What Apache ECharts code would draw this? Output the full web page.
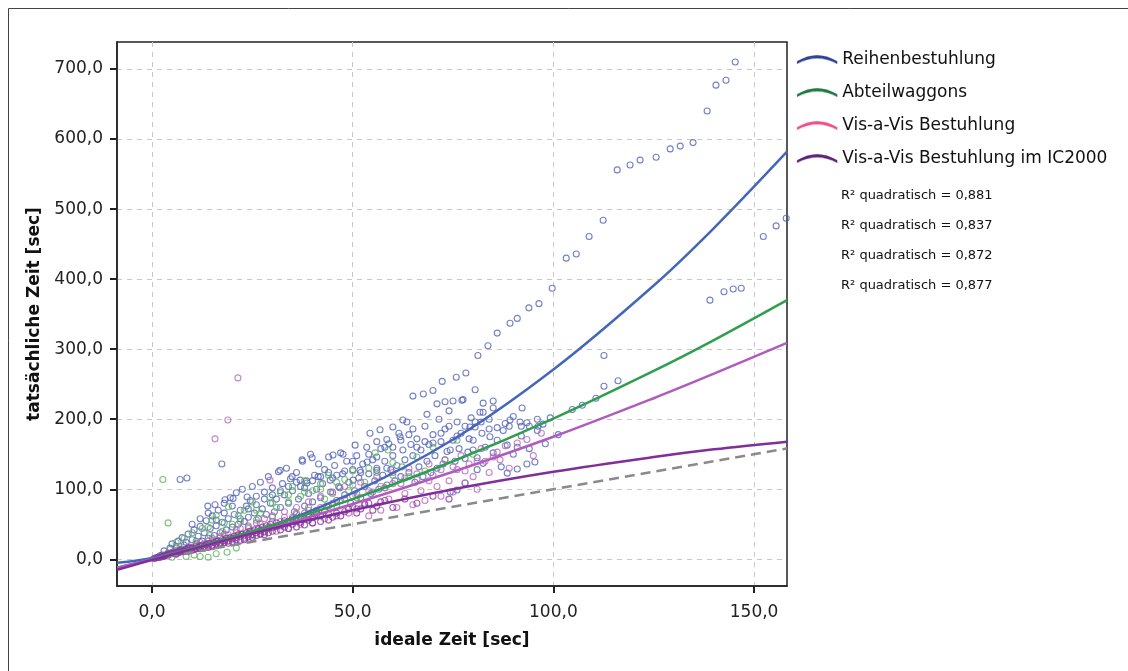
<!DOCTYPE html>
<html>
<head>
<meta charset="utf-8">
<title>Zeit Vergleich</title>
<script src="https://cdn.jsdelivr.net/npm/echarts@6/dist/echarts.min.js"></script>
<style>
  html, body { margin: 0; padding: 0; background: #fff; }
  #chart { width: 1128px; height: 671px; }
</style>
</head>
<body>
<div id="chart"></div>
<script>
// --- data ---
const groupNames = ['Reihenbestuhlung', 'Abteilwaggons', 'Vis-a-Vis Bestuhlung', 'Vis-a-Vis Bestuhlung im IC2000']
const rSquared = ['0,881', '0,837', '0,872', '0,877']
const xTicks = [0, 50, 100, 150]
const yTicks = [0, 100, 200, 300, 400, 500, 600, 700]

// fitted (quadratic) curves
const fitX = [-8.7, 0, 25, 50, 75, 100, 125, 140, 158.2]
const fitReihen = [-5, 2, 39, 95, 171, 271, 391, 473, 582]
const fitAbteil = [-12, 0, 40, 86, 140, 201, 269, 313, 370]
const fitVis = [-12, 0, 37, 79, 125, 175, 230, 265, 309]
const fitIC = [-15, -1, 37, 70, 100, 125, 146, 157, 168]
const diagX = [0, 158.2]

const ptsReihen = [
  [93.9,359],[96.4,365],[99.7,387],[103.2,430],[105.7,436],[108.9,461],[112.4,484],[115.9,556],[119.1,563],
  [121.6,570],[125.6,574],[129.1,586],[131.6,590],[134.8,595],[138.3,640],[140.5,677],[143.0,684],[145.3,710],
  [152.3,461],[155.5,476],[158.0,487],[139.0,370],[142.5,382],[144.8,386],[146.8,387],
  [72.3,254],[75.8,260],[78.2,266],[81.2,291],[83.7,305],[86,323],[89.2,337],[91,344],[112.6,291],
  [112.6,247],[116.1,255],[110.6,230],[107.2,220],[104.7,214],[99.2,202],[97.4,193],[96.2,190],[101.2,178],
  [95.4,139],[93.4,136],[91.0,129],[88.5,123],[92.2,216],[93.4,195],[91.7,196],[89.2,199],[87.5,184],
  [84.2,175],[85.0,216],[82.5,223],[82.5,210],[79.5,202],[80.5,242],[77.5,228],[75,226],[79.2,189],
  [82.2,180],[85,152],[88.5,163],[91,160],[78.7,153],[81,145],[82.5,137],[74.3,156],[74.3,96],[76,99],[78,109],
  [65,233],[67.6,236],[70,241],[71,222],[73,225],[77.2,227],[85,226],[81.7,210],[68.5,207],[80.5,189],
  [62.5,199],[65,186],[61.8,175],[60,189],[56.8,185],[54.3,180],[56,168],[58.5,171],[50.6,163],[47.6,150],
  [45.1,149],[39.9,145],[37.4,142],[31.9,127],[34.9,118],[23.7,89],[20.2,87],[18.2,85],[15.7,78],[13.9,76],
  [7,114],[8.7,116],[17.4,136],[36.9,113],[38.6,109],[41.4,118],[44.4,113],[46.8,102],[50.1,113],[51.8,127],
  [53.6,139],[56,127],[58.5,130],
  [1.5,3],[2.5,6],[3,12],[4,9],[4.5,16],[5,22],[5.5,11],[6,18],[6.5,26],[7,14],[7.5,31],[8,20],[8.5,24],
  [9,36],[9.5,17],[10,28],[10.5,42],[11,22],[11.5,33],[12,47],[12.5,26],[13,38],[13.5,55],[14,30],[14.5,44],
  [15,62],[15.5,34],[16,48],[16.5,70],[17,38],[17.5,53],[18,80],[18.5,42],[19,58],[19.5,88],[20,46],[20.5,64],
  [21,95],[21.5,50],[22,70],[22.5,100],[23,54],[23.5,76],[24,60],[24.5,84],[25,104],[25.5,66],[26,90],[26.5,58],
  [27,110],[27.5,72],[28,96],[28.5,64],[29,118],[29.5,80],[30,102],[30.5,68],[31,86],[31.5,125],[32,74],
  [32.5,108],[33,92],[33.5,130],[34,80],[34.5,115],[35,98],[35.5,68],[36,124],[36.5,86],[37,104],[37.5,140],
  [38,76],[38.5,112],[39,94],[39.5,150],[40,82],[40.5,120],[41,100],[41.5,136],[42,88],[42.5,108],[43,128],
  [43.5,76],[44,146],[44.5,96],[45,116],[45.5,134],[46,84],[46.5,104],[47,152],[47.5,122],[48,92],[48.5,140],
  [49,110],[49.5,80],[50,128],[50.5,98],[51,148],[51.5,116],[52,88],[52.5,136],[53,104],[53.5,160],[54,122],
  [54.5,94],[55,142],[55.5,112],[56,130],[56.5,100],[57,158],[57.5,120],[58,140],[58.5,106],[59,165],[59.5,128],
  [60,148],[60.5,112],[61,134],[61.5,180],[62,118],[62.5,156],[63,142],[63.5,196],[64,124],[64.5,164],[65,148],
  [65.5,110],[66,172],[66.5,132],[67,156],[67.5,118],[68,190],[68.5,140],[69,164],[69.5,124],[70,178],[70.5,148],
  [71,130],[71.5,200],[72,168],[72.5,136],[73,186],[73.5,154],[74,212],[75,170],[75.5,140],[76,196],[76.5,158],
  [77,180],[78,144],[79,172],[80,156],[80.5,196],[81,128],[83,160],[84,186],[86,170],[87,132],[89,190],[90,150],
  [92,176],[94,158],[96,200],[98,165],
  [10,50],[12,58],[14,66],[16,56],[18,66],[20,76],[22,58],[24,72],[26,78],[28,86],[30,92],[32,98],[34,104],
  [36,110],[38,102],[40,112],[42,118],[44,124],[46,120],[48,126],[50,140],[52,124],[54,150],[56,146],[58,160],
  [60,160],[62,170],[64,178],[66,160],[68,168],[70,166],[72,180],[74,190],[76,176],[78,190],[80,170],[82,196],
  [84,200],[86,188],[88,194],[90,204],[92,190],[94,190],[96,184]
]
const ptsAbteil = [
  [2.7,114],[4,52],[3,6],[4.5,14],[5,3],[6,24],[6.5,9],[7,18],[8,30],[8.5,4],[9,12],[10,38],[10.5,6],[11,26],
  [12,4],[12.5,44],[13,16],[14,3],[14.5,34],[15,56],[16,8],[16,63],[17,24],[17.5,40],[18.7,10],[19,75],[19.5,30],
  [20,50],[21,16],[21.5,62],[22,36],[23,70],[24,46],[24.5,28],[25,82],[26,56],[27,66],[28,40],[29.4,89],[30,60],
  [31,74],[32,95],[33,50],[34,82],[35,104],[36,66],[37,90],[38,112],[39,74],[40,98],[41,62],[42,108],[43,86],
  [44,120],[45,94],[46,76],[48,114],[49,98],[50,126],[51,88],[53,110],[55.6,152],[56,124],[58,102],[58.8,156],
  [60,138],[62.3,132],[64,118],[66,146],[68,126],[70,160],[73,142],[76,170],[80,150],
  [14,46],[18,52],[22,54],[26,70],[30,80],[34,92],[38,96],[42,100],[46,110],[50,106],[54,130],[60,120]
]
const ptsVis = [
  [15.7,172],[18.9,199],[21.4,259],
  [2,3],[3,5],[4,8],[5,10],[6,7],[7,12],[8,14],[9,11],[10,16],[11,20],[12,15],[13,22],[14,26],[15,20],[16,28],
  [17,32],[18,24],[19,35],[20,30],[21,38],[22,44],[23,34],[24,48],[25,40],[26,52],[27,36],[28,58],[29,46],
  [29.4,113],[30,62],[31,40],[32,54],[33,68],[34,44],[35,60],[36,74],[37,50],[38,66],[39,82],[40,52],[41,70],
  [42,90],[43,58],[44,76],[45,96],[46,62],[47,84],[48,104],[49,66],[50,90],[51,72],[52,110],[53,80],[54,62],
  [55,96],[56,118],[57,70],[58,102],[59,86],[60,124],[61,74],[62,108],[63,94],[64,130],[65,78],[66,114],[67,98],
  [68,84],[69,136],[70,120],[71,104],[72,90],[73,142],[74,112],[75,96],[76,128],[77,148],[78,109],[79,136],
  [80,118],[81,100],[82,158],[83,140],[84,124],[85,146],[86,153],[86.7,142],[88,162],[89,130],[91,166],
  [93.4,171],[95,148],[97,180],
  [6,13],[9,18],[12,24],[15,30],[18,36],[21,42],[24,44],[27,50],[30,54],[33,60],[36,64],[39,70],[42,74],
  [45,80],[48,86],[51,94],[54,98],[57,104],[60,108],[63,116],[66,122],[69,112],[72,128],[75,132],[78,126],[81,140]
]
const ptsIC = [
  [0.5,1],[1,2],[1.5,3],[2,3],[2.5,4],[3,5],[3.5,6],[4,6],[4.5,8],[5,8],[5.5,9],[6,10],[6.5,11],[7,10],[7.5,12],
  [8,13],[8.5,14],[9,12],[9.5,15],[10,16],[10.5,14],[11,18],[11.5,17],[12,15],[12.5,20],[13,18],[13.5,21],[14,17],
  [14.5,23],[15,20],[15.5,24],[16,22],[16.5,26],[17,21],[17.5,28],[18,24],[18.5,30],[19,26],[19.5,31],[20,25],
  [20.5,33],[21,28],[21.5,35],[22,27],[22.5,36],[23,30],[23.5,38],[24,32],[24.5,40],[25,31],[25.5,42],[26,34],
  [26.5,44],[27,36],[27.5,46],[28,35],[28.5,48],[29,38],[29.5,50],[30,40],[31,52],[32,42],[33,55],[34,44],[35,58],
  [36,46],[37,60],[38,49],[39,63],[40,52],[41,66],[42,54],[43,69],[44,56],[45,60],[47,62],[49,72],[51,66],[53,78],
  [55,70],[57,82],[60,74],[63,86],[66,80],[70,90],[74,86],
  [2,5],[3,4],[4,7],[5,9],[6,8],[7,13],[8,11],[9,16],[10,13],[11,15],[12,19],[13,16],[14,22],[15,18],[16,25],
  [17,23],[18,27],[19,23],[20,29],[21,31],[22,33],[23,28],[24,36],[25,35],[26,38],[27,41],[28,39],[29,44],[30,45],
  [31,47],[32,48],[33,46],[34,52],[35,50],[36,55],[37,53],[38,58],[39,56],[40,60],[42,62],[44,64],[46,66],[48,68],
  [50,75],[52,72],[54,80],[56,76],[58,84]
]

// --- styles ---
const fontFam = 'DejaVu Sans'
const legendColors = ['#34439a', '#237a44', '#f0508a', '#5e2478']
const pointColors = ['#5262b8', '#5cb45c', '#b668b8', '#88379e']
const fitColors = ['#4466bb', '#2f9e4f', '#b05cbc', '#7f2e9a']
const fmt = v => v.toFixed(1).replace('.', ',')
const zip = (xs, ys) => xs.map((x, i) => [x, ys[i]])

const pointSets = [ptsReihen, ptsAbteil, ptsVis, ptsIC]
const fitSets = [fitReihen, fitAbteil, fitVis, fitIC]

const series = []
pointSets.forEach((pts, i) => {
  series.push({
    name: groupNames[i],
    type: 'scatter',
    data: pts,
    symbol: 'circle',
    symbolSize: 6,
    itemStyle: { color: 'rgba(0,0,0,0)', borderColor: pointColors[i], borderWidth: 1.1 },
    z: 2,
  })
})
fitSets.forEach((ys, i) => {
  series.push({
    name: groupNames[i],
    type: 'line',
    data: zip(fitX, ys),
    smooth: 0.35,
    showSymbol: false,
    lineStyle: { color: fitColors[i], width: 2.5 },
    z: 4,
  })
})
series.push({
  name: 'diag',
  type: 'line',
  data: zip(diagX, diagX),
  showSymbol: false,
  lineStyle: { color: '#8a8a8a', width: 2.5, type: [10, 6] },
  z: 3,
})

const option = {
  animation: false,
  textStyle: { fontFamily: fontFam },
  grid: { left: 117, top: 42, width: 670, height: 544, show: true, borderColor: '#222', borderWidth: 1.5, outerBoundsMode: 'none' },
  legend: {
    orient: 'vertical',
    left: 792,
    top: 46,
    itemWidth: 40,
    itemHeight: 10,
    itemGap: 16,
    icon: 'path://M0,9 Q20,-3 40,9 L40,11.5 Q20,0.5 0,11.5 Z',
    textStyle: { fontSize: 17, color: '#111', fontFamily: fontFam },
    data: groupNames.map((n, i) => ({
      name: n,
      itemStyle: { color: legendColors[i], borderColor: legendColors[i], borderWidth: 0.3, opacity: 1 },
    })),
  },
  xAxis: {
    type: 'value',
    min: -8.72,
    max: 158.2,
    name: 'ideale Zeit [sec]',
    nameLocation: 'middle',
    nameGap: 46,
    nameTextStyle: { fontSize: 17, fontWeight: 'bold', color: '#111', fontFamily: fontFam },
    axisLine: { show: true, onZero: false, lineStyle: { color: '#222', width: 1.5 } },
    axisTick: { show: true, length: 7, customValues: xTicks, lineStyle: { color: '#222', width: 2 } },
    axisLabel: { customValues: xTicks, formatter: fmt, fontSize: 17, color: '#222', margin: 18 },
    splitLine: { show: true, lineStyle: { color: '#c8c8c8', type: [5, 5] } },
  },
  yAxis: {
    type: 'value',
    min: -38.1,
    max: 738.6,
    name: 'tatsächliche Zeit [sec]',
    nameLocation: 'middle',
    nameGap: 70,
    nameTextStyle: { fontSize: 17, fontWeight: 'bold', color: '#111', fontFamily: fontFam },
    axisLine: { show: true, onZero: false, lineStyle: { color: '#222', width: 1.5 } },
    axisTick: { show: true, length: 7, customValues: yTicks, lineStyle: { color: '#222', width: 2 } },
    axisLabel: { customValues: yTicks, formatter: fmt, fontSize: 17, color: '#222', margin: 14 },
    splitLine: { show: true, lineStyle: { color: '#c8c8c8', type: [5, 5] } },
  },
  graphic: [
    { type: 'rect', left: 6, top: 6, shape: { width: 1200, height: 700 }, style: { fill: 'none', stroke: '#444', lineWidth: 1 }, silent: true },
  ].concat(rSquared.map((r, i) => ({
    type: 'text', left: 841, top: 189 + i * 30,
    style: { text: 'R² quadratisch = ' + r, fontSize: 13, fill: '#111', fontFamily: fontFam },
  }))),
  series: series,
}

const chart = echarts.init(document.getElementById('chart'))
chart.setOption(option)
</script>
</body>
</html>
